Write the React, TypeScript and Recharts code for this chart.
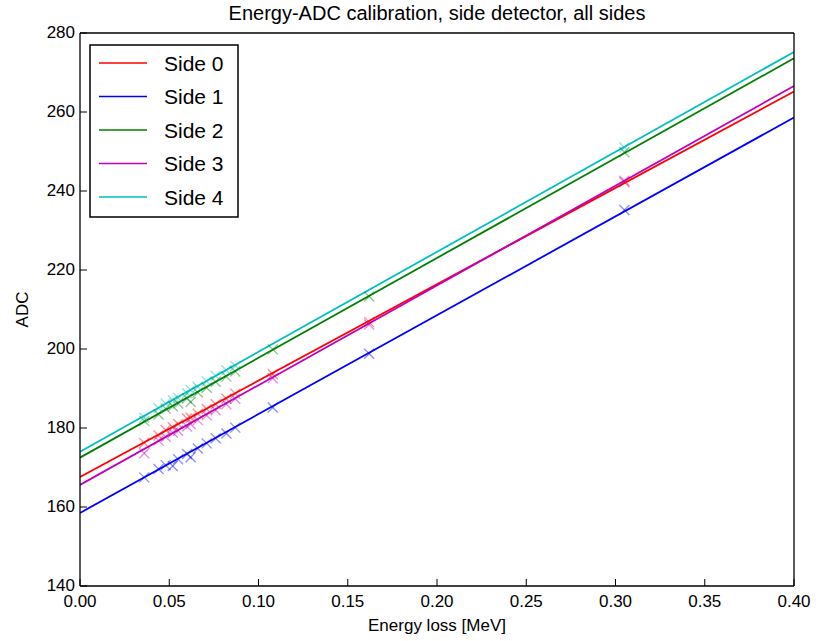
import React from 'react';
import { ComposedChart, Line, Scatter, XAxis, YAxis } from 'recharts';

// Beam energy loss of each calibration point [MeV]
const energyLoss = [0.036, 0.044, 0.048, 0.052, 0.055, 0.06, 0.062, 0.066, 0.071, 0.076, 0.082, 0.087, 0.108, 0.162, 0.305];

// Measured ADC peak per side (null = no point)
const side0Adc = [176.2, 178.1, 179.5, 180.2, 181.0, 182.4, 182.6, 183.6, 184.8, 186.0, 187.4, 188.7, 193.6, 206.8, 242.2];
const side1Adc = [167.5, 169.6, 170.6, 170.4, 172.1, 173.4, 172.6, 174.8, 176.1, 177.4, 178.6, 180.1, 185.2, 198.8, 235.2];
const side2Adc = [181.8, 183.4, 184.9, 185.5, 186.2, 187.5, 186.6, 189.0, 190.2, 191.7, 193.0, 194.3, 199.9, 213.3, 249.8];
const side3Adc = [173.6, 176.8, 177.8, 178.8, 179.3, 180.4, 181.0, 182.0, 183.2, 184.5, 186.0, 187.4, 192.6, 206.2, 242.6];
const side4Adc = [182.6, 185.0, 186.2, 187.0, 187.6, 188.8, 189.6, 190.4, 191.8, 193.2, 194.6, 195.7, null, null, 251.0];

// Linear fit endpoints per side
const fitEnergy = [0, 0.4];
const side0Fit = [167.6, 265.2];
const side1Fit = [158.5, 258.6];
const side2Fit = [172.5, 273.6];
const side3Fit = [165.6, 266.6];
const side4Fit = [174.0, 275.2];

const xTicks = [0, 0.05, 0.1, 0.15, 0.2, 0.25, 0.3, 0.35, 0.4];
const yTicks = [140, 160, 180, 200, 220, 240, 260, 280];

const sides = [
  { name: 'Side 0', color: '#ff0000', adc: side0Adc, fit: side0Fit },
  { name: 'Side 1', color: '#0000ff', adc: side1Adc, fit: side1Fit },
  { name: 'Side 2', color: '#008000', adc: side2Adc, fit: side2Fit },
  { name: 'Side 3', color: '#bf00bf', adc: side3Adc, fit: side3Fit },
  { name: 'Side 4', color: '#00bfbf', adc: side4Adc, fit: side4Fit },
];

const FONT = '"Liberation Sans", Arial, sans-serif';

const pointsOf = (adc: (number | null)[]) =>
  energyLoss
    .map((e, i) => ({ e, adc: adc[i] }))
    .filter((p) => p.adc !== null);

const fitOf = (fit: number[]) => fitEnergy.map((e, i) => ({ e, adc: fit[i] }));

// matplotlib style 'x' marker
const crossShape = (color: string) => (props: any) => {
  const { cx, cy } = props;
  const r = 5;
  return (
    <g stroke={color} strokeWidth={1.3} strokeOpacity={0.45}>
      <line x1={cx - r} y1={cy - r} x2={cx + r} y2={cy + r} />
      <line x1={cx - r} y1={cy + r} x2={cx + r} y2={cy - r} />
    </g>
  );
};

// ticks point into the plot, labels stay outside
const BottomTick = (props: any) => {
  const { x, y, payload } = props;
  return (
    <g>
      <line x1={x} x2={x} y1={y} y2={y - 7} stroke="#000" />
      <text x={x} y={y + 21} textAnchor="middle" fontSize={17} fontFamily={FONT} fill="#000">
        {Number(payload.value).toFixed(2)}
      </text>
    </g>
  );
};

const LeftTick = (props: any) => {
  const { x, y, payload } = props;
  return (
    <g>
      <line x1={x} x2={x + 7} y1={y} y2={y} stroke="#000" />
      <text x={x - 5} y={y + 5} textAnchor="end" fontSize={17} fontFamily={FONT} fill="#000">
        {payload.value}
      </text>
    </g>
  );
};

const Legend = () => (
  <svg
    width={151}
    height={175}
    style={{ position: 'absolute', left: 89, top: 44 }}
    fontFamily={FONT}
    fontSize={21}
  >
    <rect x={1} y={1} width={148} height={172} fill="#fff" stroke="#000" strokeWidth={1.5} />
    {sides.map((s, i) => {
      const cy = 19 + i * 33.5;
      return (
        <g key={s.name}>
          <line x1={10} x2={58} y1={cy} y2={cy} stroke={s.color} strokeWidth={1.6} />
          <text x={75} y={cy + 7.5} fill="#000">
            {s.name}
          </text>
        </g>
      );
    })}
  </svg>
);

export default function App() {
  return (
    <div style={{ position: 'absolute', left: 0, top: 0, width: 816, height: 641, background: '#fff' }}>
      <div
        style={{
          position: 'absolute',
          left: 80,
          width: 714,
          top: 0,
          textAlign: 'center',
          fontFamily: FONT,
          fontSize: 20,
          lineHeight: '26px',
        }}
      >
        Energy-ADC calibration, side detector, all sides
      </div>
      <ComposedChart width={816} height={641} margin={{ top: 33, right: 22, bottom: 15, left: 79 }}>
        <XAxis
          xAxisId={0}
          dataKey="e"
          type="number"
          domain={[0, 0.4]}
          ticks={xTicks}
          allowDataOverflow
          height={40}
          tickSize={0}
          tickMargin={0}
          tickLine={false}
          tick={<BottomTick />}
          axisLine={{ stroke: '#000', strokeWidth: 1.3 }}
          label={{
            content: (p: any) => (
              <text
                x={p.viewBox.x + p.viewBox.width / 2}
                y={p.viewBox.y + 45}
                textAnchor="middle"
                fontSize={17}
                fontFamily={FONT}
              >
                Energy loss [MeV]
              </text>
            ),
          }}
        />
        <XAxis
          xAxisId="top"
          type="number"
          orientation="top"
          mirror
          domain={[0, 0.4]}
          ticks={xTicks}
          allowDataOverflow
          height={1}
          tick={false}
          tickSize={7}
          tickLine={{ stroke: '#000' }}
          axisLine={{ stroke: '#000', strokeWidth: 1.3 }}
        />
        <YAxis
          yAxisId={0}
          type="number"
          domain={[140, 280]}
          ticks={yTicks}
          allowDataOverflow
          width={1}
          tickSize={0}
          tickMargin={0}
          tickLine={false}
          tick={<LeftTick />}
          axisLine={{ stroke: '#000', strokeWidth: 1.3 }}
          label={{
            content: (p: any) => {
              const cx = 22;
              const cy = p.viewBox.y + p.viewBox.height / 2;
              return (
                <text
                  x={cx}
                  y={cy}
                  textAnchor="middle"
                  dominantBaseline="central"
                  transform={`rotate(-90 ${cx} ${cy})`}
                  fontSize={17}
                  fontFamily={FONT}
                >
                  ADC
                </text>
              );
            },
          }}
        />
        <YAxis
          yAxisId="right"
          type="number"
          orientation="right"
          mirror
          domain={[140, 280]}
          ticks={yTicks}
          allowDataOverflow
          width={1}
          tick={false}
          tickSize={7}
          tickLine={{ stroke: '#000' }}
          axisLine={{ stroke: '#000', strokeWidth: 1.3 }}
        />
        {sides.map((s) => (
          <Scatter
            key={`pts-${s.name}`}
            data={pointsOf(s.adc)}
            dataKey="adc"
            shape={crossShape(s.color)}
            isAnimationActive={false}
          />
        ))}
        {sides.map((s) => (
          <Line
            key={`fit-${s.name}`}
            data={fitOf(s.fit)}
            dataKey="adc"
            type="linear"
            stroke={s.color}
            strokeWidth={1.8}
            dot={false}
            activeDot={false}
            isAnimationActive={false}
          />
        ))}
      </ComposedChart>
      <Legend />
    </div>
  );
}
